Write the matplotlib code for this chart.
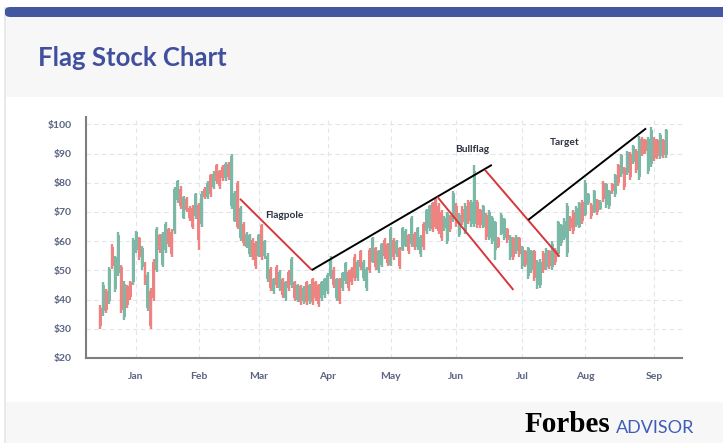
import matplotlib
matplotlib.use("Agg")
import matplotlib.pyplot as plt
from matplotlib.patches import Rectangle, FancyBboxPatch
import numpy as np
import pandas as pd

# daily OHLC, one candle per trading day
dates = pd.bdate_range("2021-12-16", periods=190)

opens = [
    37, 36, 43, 39.5, 58, 43.5, 49, 51, 34, 44.5,
    46, 46, 57, 61, 51, 52, 37, 43, 53, 50,
    62, 52, 57, 64, 63, 63.5, 74, 78, 68, 74.5,
    71.5, 71.5, 68.5, 72.5, 66, 78, 75, 82.5, 78.5, 86,
    84, 85.5, 81.5, 86.5, 72, 67, 80, 61, 66, 58,
    55.5, 60.5, 59.5, 55, 65.5, 55, 47, 50.5, 43, 51,
    44, 47, 40.5, 49.5, 45, 46, 40, 44.5, 39.5, 46,
    39.5, 47, 46, 45, 40.5, 41.5, 43, 48, 50, 40.5,
    47, 44, 46.5, 49.5, 50.5, 54.5, 47.5, 56.5, 47.5, 44,
    57, 53, 57.5, 50, 52, 60.5, 59, 52, 60.5, 55.5,
    57.5, 57, 58.5, 62, 59, 62.5, 58, 55.5, 66, 63.5,
    64.5, 73, 74, 72, 70, 64.5, 60, 68.5, 67.5, 72,
    62, 71, 63.5, 73.5, 66, 66, 73.5, 70.5, 65, 69,
    61, 60, 57, 61, 62.5, 61, 64, 54.5, 61, 56.5,
    61, 51.5, 56.5, 48, 50, 56.5, 45, 45, 56, 51,
    56.5, 51, 57, 55.5, 59.5, 61, 56, 68, 70, 65.5,
    65, 73.5, 69, 73, 72.5, 70, 74, 71, 80, 72.5,
    72, 79.5, 76, 86, 83, 85, 83.5, 90, 87, 91,
    82, 95, 94.5, 84, 86.5, 95, 94.5, 89, 94.5, 89.5,
]
highs = [
    38, 46, 43.5, 51, 59, 55, 63, 52, 46.5, 45,
    46.5, 61, 63.5, 61.5, 58.5, 53, 49.5, 44, 54, 65,
    62.5, 63, 66.5, 64.5, 64, 78.5, 81, 79, 75.5, 75,
    72, 72.5, 76.5, 73, 77, 78.5, 80.5, 83, 84, 86.5,
    84.5, 86, 87, 87, 90, 77, 80.5, 72, 66.5, 63,
    62.5, 61, 60, 62.5, 66, 60.5, 56, 51, 47.5, 52,
    50, 47.5, 46.5, 50, 54.5, 46.5, 45.5, 45, 44.5, 46.5,
    45.5, 47.5, 46.5, 45.5, 46.5, 47.5, 49, 55, 51, 47.5,
    47.5, 49.5, 53, 50, 51, 55.5, 53.5, 57, 53.5, 51,
    57.5, 61.5, 58, 57, 59.5, 61, 59.5, 65, 61, 60.5,
    58, 65, 64, 62.5, 68.5, 63, 65, 62, 66.5, 71,
    72.5, 73.5, 74.5, 73, 70.5, 68.5, 70, 69, 77, 73,
    69.5, 72, 73, 74, 74, 86, 74, 71, 72.5, 69.5,
    70.5, 68.5, 67, 61.5, 69.5, 68, 64.5, 62, 61.5, 62,
    61.5, 58.5, 57, 58, 57, 57, 53.5, 54, 56.5, 57.5,
    57, 60, 57.5, 67, 66, 68, 73, 68.5, 70.5, 72,
    73.5, 74, 81, 76.5, 73, 77.5, 74.5, 74, 80.5, 80,
    77.5, 80, 83, 86.5, 90, 85.5, 91, 90.5, 93, 91.5,
    96, 95.5, 95, 95.5, 99, 95.5, 95, 97, 95, 98.5,
]
lows = [
    30, 34.5, 35.5, 38.5, 50.5, 42.5, 48, 35.5, 33, 37,
    40, 45, 56, 53.5, 50, 45, 36, 30, 39.5, 49.5,
    56, 51, 56, 58, 54.5, 62.5, 73, 71, 67.5, 70,
    67, 64, 67.5, 57, 65, 74.5, 74.5, 75, 78, 79.5,
    78, 80.5, 80.5, 81, 71, 66.5, 64, 60, 58.5, 57.5,
    54.5, 53.5, 50.5, 54.5, 53.5, 54, 46, 43, 42, 44,
    43, 40.5, 39.5, 43, 44, 39.5, 39, 38, 38.5, 38,
    38.5, 38, 39.5, 37.5, 39.5, 40.5, 42, 47, 44, 39.5,
    38.5, 43, 45.5, 43, 45, 46.5, 46.5, 50, 46.5, 43,
    49, 52.5, 50, 49, 51, 54, 51.5, 51.5, 53.5, 54.5,
    50.5, 56.5, 58, 55.5, 58, 57, 57, 54.5, 57, 62.5,
    63.5, 63, 64, 62.5, 60, 63.5, 59, 63, 66.5, 65,
    61.5, 65.5, 62.5, 66, 65, 65, 64.5, 64.5, 64.5, 60.5,
    60.5, 59, 53.5, 57.5, 62, 60.5, 59.5, 53.5, 53.5, 55.5,
    54.5, 50.5, 51, 47, 49, 46.5, 43.5, 44, 49, 50,
    50.5, 50, 52, 54.5, 58.5, 60.5, 54.5, 63.5, 62.5, 65,
    64.5, 66, 68.5, 72.5, 67.5, 69.5, 69, 70.5, 73.5, 71.5,
    71, 76, 75, 79, 82, 77.5, 82.5, 81, 86.5, 83.5,
    81, 89, 90, 83, 85.5, 87.5, 88, 88, 88.5, 88.5,
]
closes = [
    31, 45, 36.5, 50.5, 51.5, 54.5, 62, 36.5, 45.5, 38,
    41, 60.5, 63, 54.5, 57.5, 46, 48.5, 31, 40.5, 64,
    57, 62.5, 66, 59, 55.5, 78, 80.5, 72, 75, 70.5,
    68, 65, 76, 60.5, 76, 75, 80, 76, 83, 80.5,
    79, 81.5, 86.5, 82, 89, 76.5, 65, 71.5, 59.5, 62.5,
    62, 54.5, 51.5, 62, 54.5, 60, 55, 44, 47, 45,
    49.5, 41.5, 46, 44, 54, 40.5, 45, 39, 44, 39,
    45, 39, 40.5, 38.5, 46, 47, 48.5, 54, 45, 47,
    39.5, 49, 52.5, 44, 46, 47.5, 53, 51, 53, 50.5,
    50, 61, 51, 56.5, 59, 55, 52.5, 64, 54.5, 60,
    51.5, 64.5, 63.5, 56.5, 68, 58, 64.5, 61.5, 58, 70.5,
    72, 64, 65, 63.5, 61, 68, 69.5, 64, 76.5, 66,
    69, 66.5, 72, 67, 73.5, 84, 65.5, 65.5, 72, 61.5,
    70, 68, 66.5, 58, 69, 67.5, 60.5, 61.5, 54.5, 61.5,
    55.5, 58, 52, 57.5, 56.5, 47.5, 53, 53, 50, 57,
    51.5, 59, 53, 66.5, 65.5, 67, 72, 64.5, 63.5, 71.5,
    73, 67, 80, 76, 68.5, 77, 70, 73.5, 74.5, 79.5,
    77, 77, 82.5, 80, 89.5, 78.5, 90.5, 82, 92.5, 84.5,
    95, 90, 91, 95, 98, 88.5, 89, 96.5, 89.5, 98,
]

# trend lines as (day index, price) pairs
flagpole_line = ([46.7, 70.7], [74.5, 50.1])
rise_line = ([70.7, 130.8], [50.1, 86.1])
flag_upper = ([128.5, 153.4], [84.4, 54.7])
flag_lower = ([112.6, 138.0], [75.2, 43.3])
target_line = ([143.0, 182.3], [67.3, 98.6])

green = "#7bb9a6"
red = "#ee8481"
navy = "#404f9e"

W, H = 723, 443
fig = plt.figure(figsize=(W / 100, H / 100), dpi=100, facecolor="white")


def px(x0, y0, w, h):
    # figure-fraction box from pixel coords (origin top-left)
    return (x0 / W, 1 - (y0 + h) / H, w / W, h / H)


# card background, header strip and footer
for (x0, y0, w, h), col in [
    (px(4, 7, 730, 440), "#e9e9ec"),
    (px(6, 8, 730, 440), "#f7f7f7"),
    (px(6, 97, 730, 305), "white"),
]:
    fig.patches.append(Rectangle((x0, y0), w, h, transform=fig.transFigure,
                                 facecolor=col, edgecolor="none", zorder=-2))
fig.patches.append(FancyBboxPatch(px(5, 7, 740, 10)[:2], 740 / W, 10 / H,
                                  boxstyle="round,pad=0,rounding_size=0.008",
                                  transform=fig.transFigure, facecolor="#4357a1",
                                  edgecolor="none", zorder=-1))

fig.text(38 / W, 1 - 58 / H, "Flag Stock Chart", color=navy, fontsize=18.5,
         fontweight="bold", family="Lato", va="center", ha="left")

ax = fig.add_axes(px(86, 117, 596, 241))
ax.set_zorder(3)
ax.set_facecolor("white")

x = np.arange(len(dates))
o = np.array(opens)
c = np.array(closes)
up = c >= o
colors = np.where(up, green, red)

ax.vlines(x, lows, highs, colors=colors, linewidth=1.7, zorder=2)
ax.bar(x, np.abs(c - o), bottom=np.minimum(o, c), width=1.0,
       color=colors, edgecolor="none", zorder=3)

for line, col in [(flagpole_line, "#d7373a"), (rise_line, "black"),
                  (flag_upper, "#d7373a"), (flag_lower, "#d7373a"),
                  (target_line, "black")]:
    ax.plot(line[0], line[1], color=col, linewidth=1.4, zorder=4,
            solid_capstyle="butt")

note_kw = dict(fontsize=7.3, fontweight="bold", color="#2d3142", family="Lato",
               ha="center", va="center", zorder=5)
ax.text(61.5, 68.8, "Flagpole", **note_kw)
ax.text(124.2, 91.3, "Bullflag", **note_kw)
ax.text(155.3, 93.6, "Target", **note_kw)

# month ticks at the first trading day of each month
month_starts = [i for i in range(1, len(dates)) if dates[i].month != dates[i - 1].month]
ax.set_xticks(month_starts)
ax.set_xticklabels([dates[i].strftime("%b") for i in month_starts])
yticks = np.arange(20, 101, 10)
ax.set_yticks(yticks)
ax.set_yticklabels(["$%d" % v for v in yticks])

ax.set_xlim(-4.7, 194.3)
ax.set_ylim(20, 102.5)

ax.grid(True, color="#e2e4ee", linestyle=(0, (4, 3)), linewidth=0.8, zorder=0)
ax.set_axisbelow(True)
for side in ("top", "right"):
    ax.spines[side].set_visible(False)
for side in ("left", "bottom"):
    ax.spines[side].set_color("#7d7d82")
    ax.spines[side].set_linewidth(1.5)
ax.tick_params(length=0, labelsize=7.5, labelcolor="#5a6381")
ax.tick_params(axis="y", pad=10)
ax.tick_params(axis="x", pad=10)
for lab in ax.get_xticklabels() + ax.get_yticklabels():
    lab.set_fontfamily("Lato")
    lab.set_fontweight("bold")

fig.text(610 / W, 1 - 425 / H, "Forbes", family="Liberation Serif", fontweight="bold",
         fontsize=21, color="black", ha="right", va="center")
fig.text(616 / W, 1 - 428 / H, "ADVISOR", family="Lato", fontsize=13,
         color="#3f5cb6", ha="left", va="center")

fig.savefig("out.png", dpi=100, facecolor=fig.get_facecolor())
